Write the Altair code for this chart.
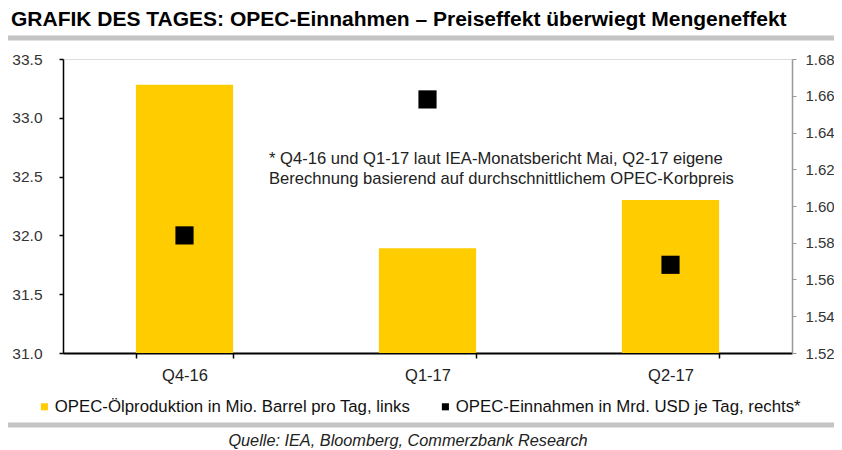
import altair as alt
import pandas as pd

quarters = ["Q4-16", "Q1-17", "Q2-17"]
production = [33.28, 31.89, 32.30]
revenue = [1.584, 1.658, 1.568]
series_names = ["OPEC-Ölproduktion in Mio. Barrel pro Tag, links",
                "OPEC-Einnahmen in Mrd. USD je Tag, rechts*"]
left_ticks = [31.0, 31.5, 32.0, 32.5, 33.0, 33.5]
right_ticks = [1.52, 1.54, 1.56, 1.58, 1.60, 1.62, 1.64, 1.66, 1.68]
axis_base = 31.0
title_text = "GRAFIK DES TAGES: OPEC-Einnahmen – Preiseffekt überwiegt Mengeneffekt"
note_lines = ["* Q4-16 und Q1-17 laut IEA-Monatsbericht Mai, Q2-17 eigene",
              "Berechnung basierend auf durchschnittlichem OPEC-Korbpreis"]
source_text = "Quelle: IEA, Bloomberg, Commerzbank Research"

FONT = "Liberation Sans"
W, H = 729, 294
PL, PT = 55, 51

df = pd.DataFrame({
    "q": quarters,
    "prod": production,
    "rev": revenue,
    "base": axis_base,
    "s_prod": series_names[0],
    "s_rev": series_names[1],
})

color_scale = alt.Scale(domain=series_names, range=["#FFCC00", "#000000"])
x_enc = alt.X("q:N", sort=quarters,
              scale=alt.Scale(paddingInner=0.6, paddingOuter=0.3),
              axis=alt.Axis(title=None, labelAngle=0, tickBand="extent",
                            domainColor="#000000", domainWidth=2,
                            tickColor="#000000", tickSize=5, tickWidth=1.5,
                            labelFont=FONT, labelFontSize=16.5, labelColor="#222222",
                            labelPadding=9))

bars = alt.Chart(df).mark_bar().encode(
    x=x_enc,
    y=alt.Y("prod:Q", scale=alt.Scale(domain=[31.0, 33.5], zero=False, nice=False),
            axis=alt.Axis(title=None, values=left_ticks, format=".1f", orient="left",
                          grid=False, domainColor="#000000", domainWidth=1.5,
                          tickColor="#000000", tickSize=4, tickWidth=1.5,
                          labelFont=FONT, labelFontSize=15.5, labelColor="#333333",
                          labelPadding=17)),
    y2="base:Q",
    color=alt.Color("s_prod:N", scale=color_scale, title=None,
                    legend=alt.Legend(orient="none", legendX=-27, legendY=339,
                                      direction="horizontal", symbolType="square",
                                      symbolSize=50, symbolStrokeWidth=0,
                                      labelFont=FONT, labelFontSize=16.8,
                                      labelLimit=0,
                                      labelColor="#111111", columnPadding=26,
                                      labelOffset=2)),
)

points = alt.Chart(df).mark_point(shape="square", filled=True, size=330, opacity=1).encode(
    x=alt.X("q:N", sort=quarters),
    y=alt.Y("rev:Q", scale=alt.Scale(domain=[1.52, 1.68], zero=False, nice=False),
            axis=alt.Axis(title=None, values=right_ticks, format=".2f", orient="right",
                          grid=False, domainColor="#999999", domainWidth=1.5,
                          tickColor="#999999", tickSize=4, tickWidth=1,
                          labelFont=FONT, labelFontSize=15, labelColor="#333333",
                          labelPadding=9)),
    color=alt.Color("s_rev:N", scale=color_scale, title=None),
)

data_layer = alt.layer(bars, points).resolve_scale(y="independent")

title_df = pd.DataFrame({"t": [title_text]})
title = alt.Chart(title_df).mark_text(
    font=FONT, fontSize=21, fontWeight="bold", align="left", baseline="middle",
    color="#000000").encode(text="t:N", x=alt.value(-PL + 3), y=alt.value(-39))

note_df = pd.DataFrame({"t": ["\n".join(note_lines)]})
note = alt.Chart(note_df).mark_text(
    font=FONT, fontSize=16.6, align="left", baseline="middle", lineBreak="\n",
    lineHeight=20, color="#222222").encode(text="t:N", x=alt.value(206), y=alt.value(100))

src_df = pd.DataFrame({"t": [source_text]})
source = alt.Chart(src_df).mark_text(
    font=FONT, fontSize=16.3, fontStyle="italic", align="center", baseline="middle",
    color="#222222").encode(text="t:N", x=alt.value(408 - 63), y=alt.value(441 - 59))

line_df = pd.DataFrame({"k": [0]})
top_line = alt.Chart(line_df).mark_rule(color="#c4c4c4", strokeWidth=5).encode(
    x=alt.value(-PL), x2=alt.value(834 - 63), y=alt.value(-21))
bot_line = alt.Chart(line_df).mark_rule(color="#c4c4c4", strokeWidth=5).encode(
    x=alt.value(-PL), x2=alt.value(834 - 63), y=alt.value(425 - 59))

chart = alt.layer(data_layer, title, note, source, top_line, bot_line).properties(
    width=W, height=H,
    padding={"left": PL, "top": PT, "right": 42, "bottom": 97},
    autosize=alt.AutoSizeParams(type="none"),
).configure_view(stroke=None).configure(background="#ffffff")

chart.save("out.html", embed_options={"renderer": "svg", "actions": False})
